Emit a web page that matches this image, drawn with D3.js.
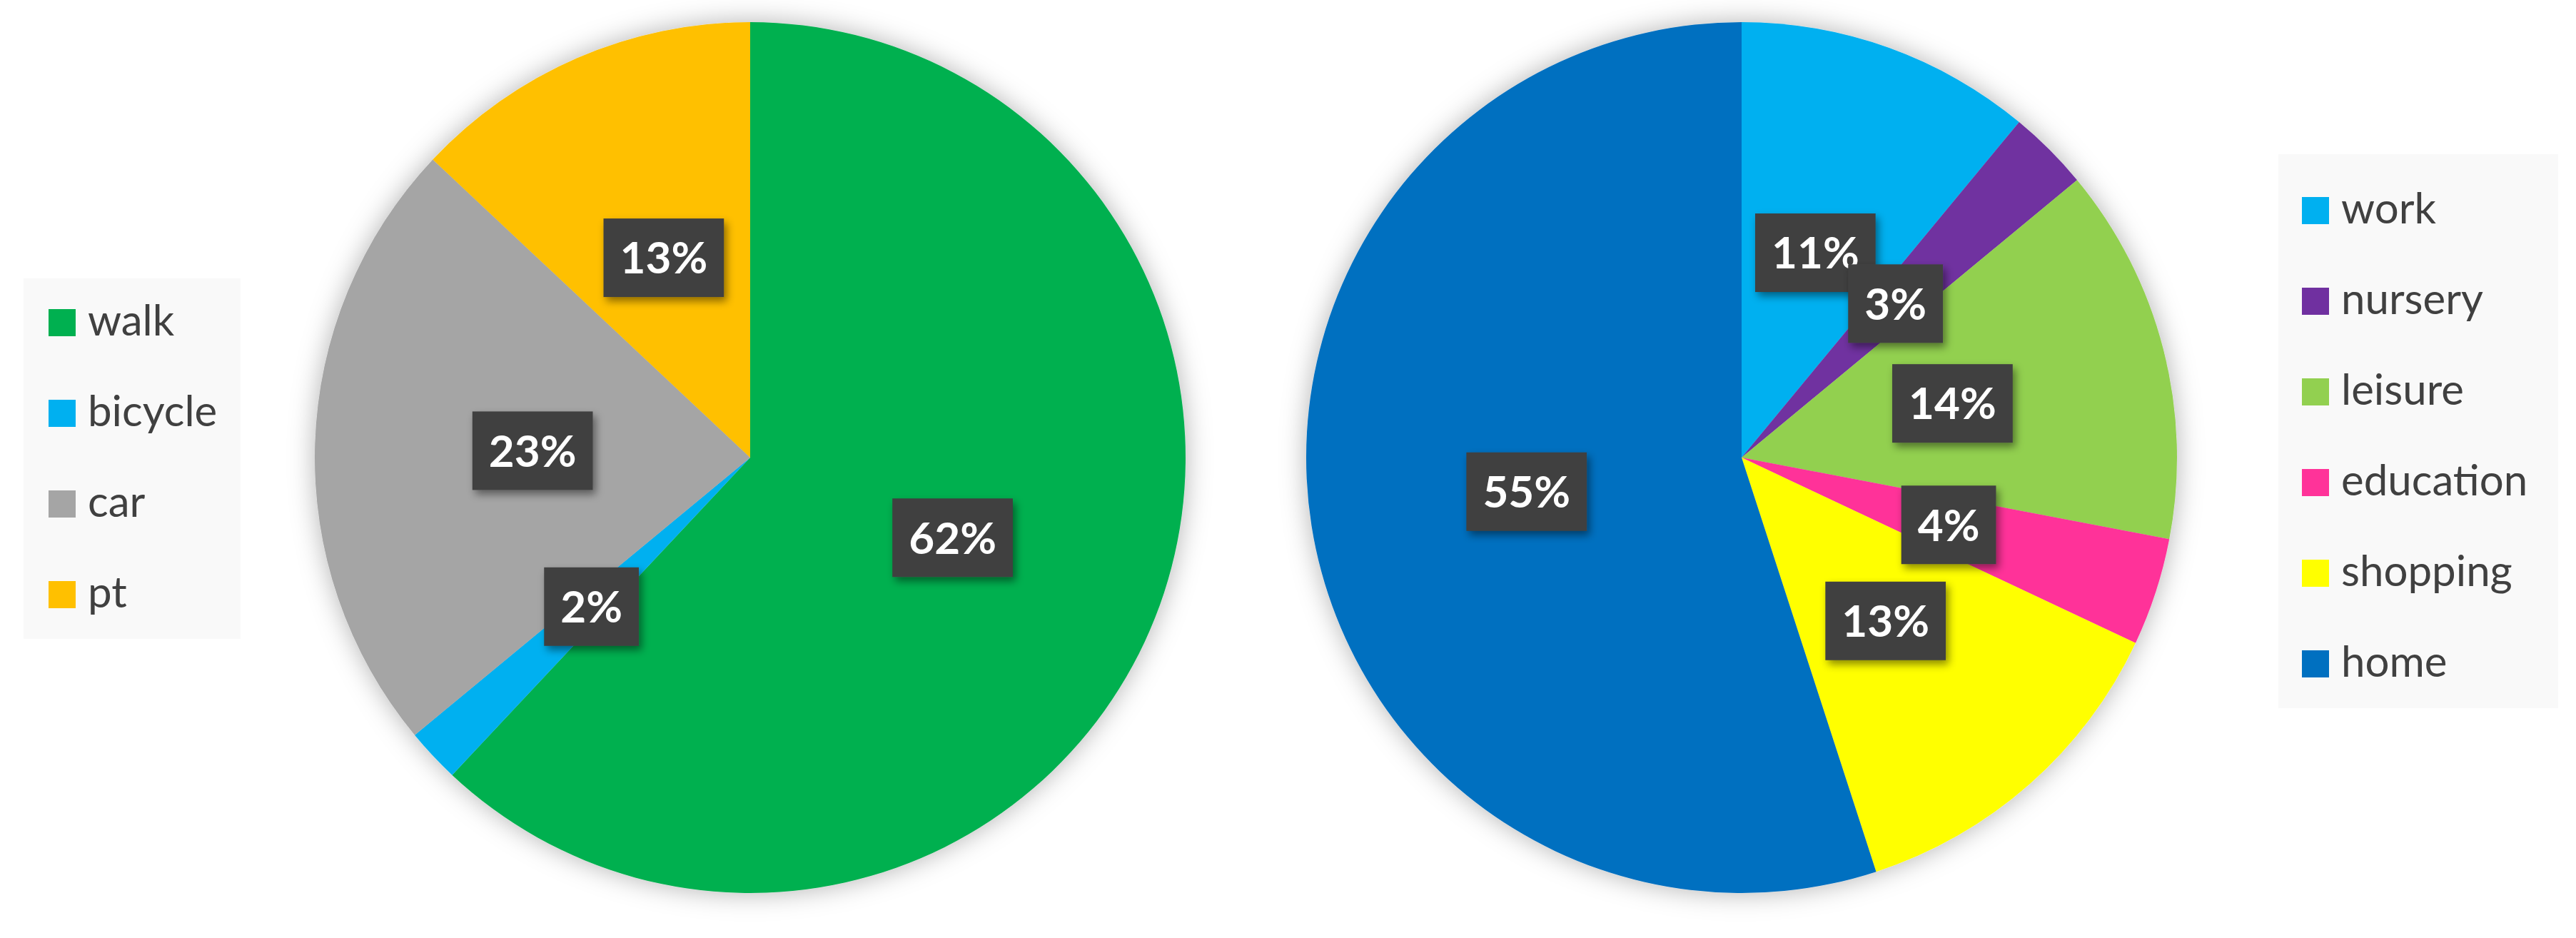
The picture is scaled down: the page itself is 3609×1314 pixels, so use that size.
<!DOCTYPE html>
<html>
<head>
<meta charset="utf-8">
<script src="https://cdn.jsdelivr.net/npm/d3@7"></script>
<style>
  html, body { margin: 0; padding: 0; background: #ffffff; }
  svg { display: block; }
</style>
</head>
<body>
<svg id="chart" width="3609" height="1314"></svg>
<script>
// ---- Data ----
const modeCategories = ["walk", "bicycle", "car", "pt"];
const modeValues = [62, 2, 23, 13];
const modeColors = ["#00B050", "#00B0F0", "#A5A5A5", "#FFC000"];

const purposeCategories = ["work", "nursery", "leisure", "education", "shopping", "home"];
const purposeValues = [11, 3, 14, 4, 13, 55];
const purposeColors = ["#00B0F0", "#7030A0", "#92D050", "#FF3399", "#FFFF00", "#0070C0"];

// ---- Setup ----
const svg = d3.select("#chart");
const defs = svg.append("defs");

const pieShadow = defs.append("filter").attr("id", "pieShadow")
  .attr("x", "-20%").attr("y", "-20%").attr("width", "140%").attr("height", "140%");
pieShadow.append("feDropShadow").attr("dx", 0).attr("dy", 0)
  .attr("stdDeviation", 18).attr("flood-color", "#000").attr("flood-opacity", 0.3);

const labelShadow = defs.append("filter").attr("id", "labelShadow")
  .attr("x", "-30%").attr("y", "-30%").attr("width", "160%").attr("height", "170%");
labelShadow.append("feDropShadow").attr("dx", 4).attr("dy", 6)
  .attr("stdDeviation", 6).attr("flood-color", "#000").attr("flood-opacity", 0.45);

const R = 610;

function drawPie(cx, cy, cats, vals, colors) {
  const data = cats.map((c, i) => ({ cat: c, value: vals[i], color: colors[i] }));
  const pie = d3.pie().value(d => d.value).sort(null);
  const arcs = pie(data);
  const arc = d3.arc().innerRadius(0).outerRadius(R);
  const labelArc = d3.arc().innerRadius(R * 0.5).outerRadius(R * 0.5);

  const g = svg.append("g").attr("transform", `translate(${cx},${cy})`);
  const slices = g.append("g").attr("filter", "url(#pieShadow)");
  slices.selectAll("path").data(arcs).join("path")
    .attr("d", arc)
    .attr("fill", d => d.data.color);

  const total = d3.sum(vals);
  const labels = g.append("g").selectAll("g").data(arcs).join("g")
    .attr("transform", d => `translate(${labelArc.centroid(d)})`);

  labels.each(function(d) {
    const lg = d3.select(this);
    const rect = lg.append("rect").attr("fill", "#404040").attr("filter", "url(#labelShadow)");
    const t = lg.append("text")
      .attr("text-anchor", "middle")
      .attr("dy", "0.36em")
      .attr("fill", "#ffffff")
      .attr("font-family", "Lato, 'Open Sans', sans-serif")
      .attr("font-weight", "bold")
      .attr("font-size", 62)
      .text(d3.format(".0%")(d.data.value / total));
    const w = t.node().getComputedTextLength() + 46;
    const h = 110;
    rect.attr("x", -w / 2).attr("y", -h / 2).attr("width", w).attr("height", h);
  });
}

function drawLegend(x, y, w, h, swX, txtX, firstRowY, rowStep, cats, colors) {
  const g = svg.append("g");
  g.append("rect").attr("x", x).attr("y", y).attr("width", w).attr("height", h)
    .attr("fill", "#f9f9f9");
  const rows = g.selectAll("g.row").data(cats).join("g")
    .attr("class", "row")
    .attr("transform", (d, i) => `translate(0,${firstRowY + i * rowStep})`);
  rows.append("rect").attr("x", swX).attr("y", -19).attr("width", 38).attr("height", 38)
    .attr("fill", (d, i) => colors[i]);
  rows.append("text").attr("x", txtX).attr("dy", "0.3em")
    .attr("fill", "#404040")
    .attr("font-family", "Lato, 'Open Sans', sans-serif")
    .attr("font-size", 60)
    .text(d => d);
}

drawPie(1051, 641, modeCategories, modeValues, modeColors);
drawPie(2440, 641, purposeCategories, purposeValues, purposeColors);

drawLegend(33, 390, 304, 505, 68, 123, 452, 127, modeCategories, modeColors);
drawLegend(3192, 216, 392, 776, 3225, 3280, 295, 127, purposeCategories, purposeColors);
</script>
</body>
</html>
